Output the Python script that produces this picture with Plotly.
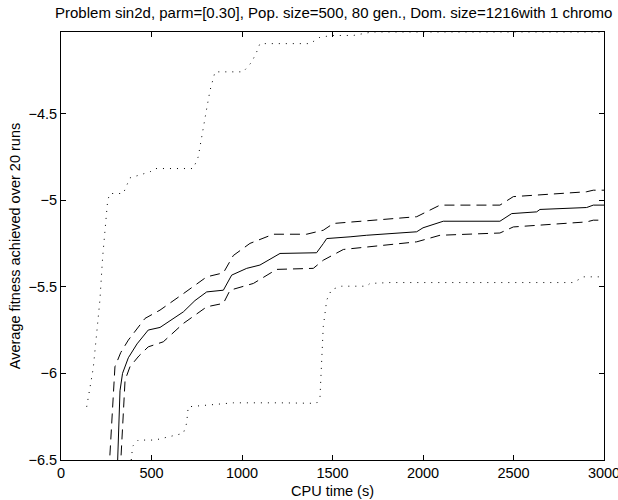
import plotly.graph_objects as go

# CPU time (s) and fitness values
mean_x = [305, 326, 340, 372, 420, 482, 547, 600, 676, 740, 805, 897, 943, 1026, 1099, 1210, 1412, 1450, 1468, 1597, 1689, 1965, 2000, 2112, 2425, 2490, 2628, 2646, 2904, 2941, 3000]
mean_y = [-6.75, -6.10, -6.00, -5.91, -5.83, -5.75, -5.735, -5.70, -5.645, -5.58, -5.53, -5.52, -5.433, -5.394, -5.375, -5.308, -5.304, -5.25, -5.222, -5.212, -5.203, -5.183, -5.16, -5.122, -5.122, -5.078, -5.068, -5.054, -5.043, -5.029, -5.029]

upper_x = [255, 298, 330, 372, 464, 547, 676, 805, 897, 952, 1044, 1173, 1357, 1449, 1505, 1615, 1965, 2094, 2425, 2499, 2904, 2941, 3000]
upper_y = [-6.75, -5.962, -5.88, -5.808, -5.683, -5.635, -5.54, -5.443, -5.42, -5.32, -5.25, -5.197, -5.197, -5.174, -5.135, -5.126, -5.096, -5.029, -5.029, -4.98, -4.952, -4.943, -4.943]

lower_x = [318, 354, 381, 430, 482, 565, 676, 805, 897, 934, 1063, 1191, 1394, 1449, 1560, 1965, 2094, 2425, 2499, 2904, 2941, 3000]
lower_y = [-6.75, -6.039, -5.962, -5.90, -5.847, -5.818, -5.712, -5.616, -5.596, -5.52, -5.481, -5.40, -5.394, -5.347, -5.285, -5.241, -5.203, -5.19, -5.155, -5.126, -5.116, -5.116]

max_x = [142, 160, 178, 197, 215, 230, 243, 258, 271, 344, 381, 492, 519, 731, 758, 786, 805, 823, 851, 1007, 1054, 1081, 1099, 1376, 1431, 1500, 1615, 1718, 3000]
max_y = [-6.193, -6.077, -5.971, -5.77, -5.577, -5.33, -5.174, -5.0, -4.962, -4.962, -4.872, -4.837, -4.818, -4.818, -4.751, -4.597, -4.472, -4.369, -4.26, -4.26, -4.203, -4.145, -4.097, -4.097, -4.06, -4.05, -4.05, -4.03, -4.03]

min_x = [388, 396, 427, 519, 676, 694, 703, 796, 888, 952, 1210, 1412, 1431, 1440, 1449, 1468, 1495, 1551, 1689, 1707, 1818, 2831, 2886, 2996]
min_y = [-6.5, -6.42, -6.385, -6.385, -6.346, -6.289, -6.193, -6.183, -6.177, -6.17, -6.17, -6.173, -6.135, -5.92, -5.731, -5.577, -5.516, -5.497, -5.497, -5.481, -5.476, -5.476, -5.443, -5.443]

x_ticks = [0, 500, 1000, 1500, 2000, 2500, 3000]
y_ticks = [-6.5, -6, -5.5, -5, -4.5]
y_tick_text = ["\u22126.5", "\u22126", "\u22125.5", "\u22125", "\u22124.5"]

FONT = "Liberation Sans, Arial, Helvetica, sans-serif"

fig = go.Figure()
fig.add_trace(go.Scatter(x=max_x, y=max_y, mode="lines",
                         line=dict(color="black", width=1, dash="1px,6px")))
fig.add_trace(go.Scatter(x=min_x, y=min_y, mode="lines",
                         line=dict(color="black", width=1, dash="1px,6px")))
fig.add_trace(go.Scatter(x=upper_x, y=upper_y, mode="lines",
                         line=dict(color="black", width=1, dash="10px,6px")))
fig.add_trace(go.Scatter(x=lower_x, y=lower_y, mode="lines",
                         line=dict(color="black", width=1, dash="10px,6px")))
fig.add_trace(go.Scatter(x=mean_x, y=mean_y, mode="lines",
                         line=dict(color="black", width=1)))

fig.update_layout(
    width=618, height=500,
    margin=dict(l=61, r=14, t=32, b=40, autoexpand=False),
    paper_bgcolor="white", plot_bgcolor="white",
    showlegend=False,
    font=dict(family=FONT, size=14.5, color="black"),
    title=dict(text="Problem sin2d, parm=[0.30], Pop. size=500, 80 gen., Dom. size=1216with 1 chromo",
               x=0.54, xanchor="center", y=0.974, yanchor="middle",
               font=dict(family=FONT, size=15, color="black")),
    xaxis=dict(range=[0, 3000], tickvals=x_ticks, ticks="inside", ticklen=5,
               showline=True, linecolor="black", linewidth=1, mirror="ticks",
               showgrid=False, zeroline=False, tickcolor="black",
               ticklabeloverflow="allow", automargin=False,
               tickfont=dict(family=FONT, size=14.5),
               title=dict(text="CPU time (s)", standoff=5,
                          font=dict(family=FONT, size=14.5))),
    yaxis=dict(range=[-6.5, -4.03], tickvals=y_ticks, ticktext=y_tick_text,
               ticks="inside", ticklen=5, automargin=False,
               showline=True, linecolor="black", linewidth=1, mirror="ticks",
               showgrid=False, zeroline=False, tickcolor="black",
               tickfont=dict(family=FONT, size=14.5),
               title=dict(text="Average fitness achieved over 20 runs", standoff=4,
                          font=dict(family=FONT, size=14.5))),
)

fig.write_html("out.html")
